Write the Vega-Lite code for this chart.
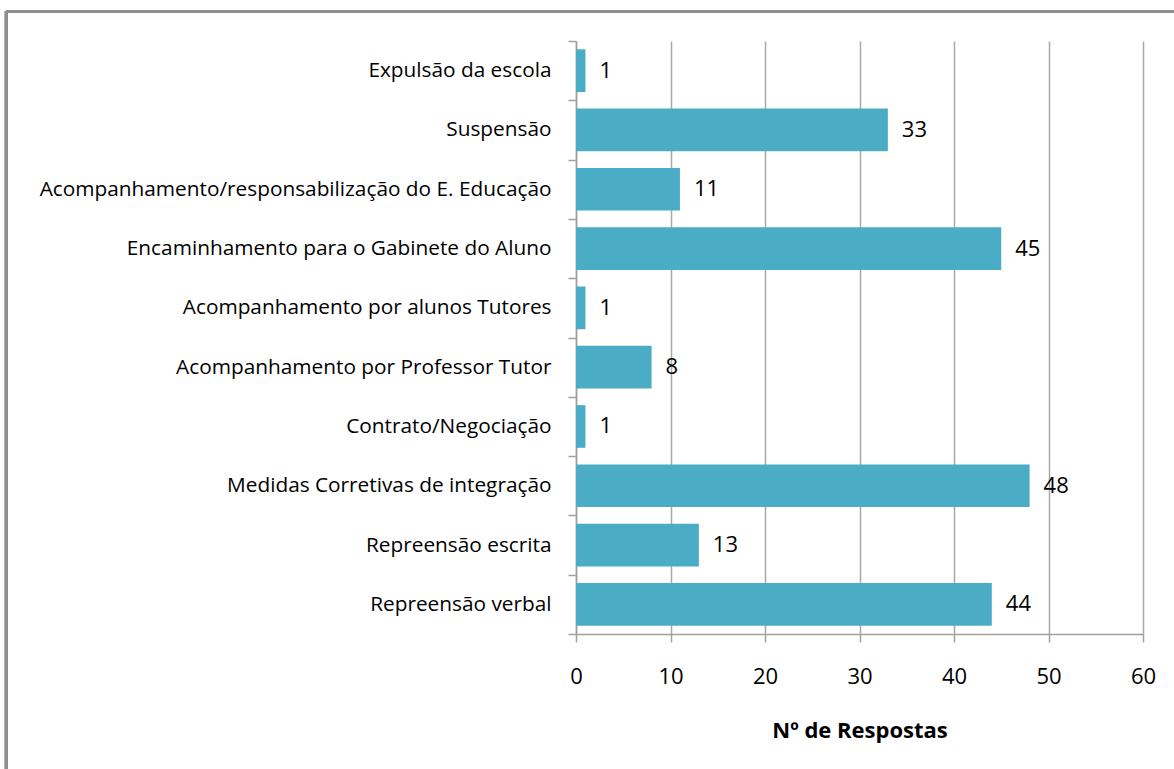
{
  "$schema": "https://vega.github.io/schema/vega-lite/v6.json",
  "autosize": {"type": "none"},
  "padding": {"left": 576, "top": 41, "right": 31, "bottom": 135},
  "width": 567,
  "height": 593,
  "background": "white",
  "config": {
    "view": {"stroke": null},
    "font": "Open Sans",
    "axis": {"labelFont": "Open Sans", "titleFont": "Open Sans"}
  },
  "data": {
    "values": [
      {"medida": "Expulsão da escola", "n": 1},
      {"medida": "Suspensão", "n": 33},
      {"medida": "Acompanhamento/responsabilização do E. Educação", "n": 11},
      {"medida": "Encaminhamento para o Gabinete do Aluno", "n": 45},
      {"medida": "Acompanhamento por alunos Tutores", "n": 1},
      {"medida": "Acompanhamento por Professor Tutor", "n": 8},
      {"medida": "Contrato/Negociação", "n": 1},
      {"medida": "Medidas Corretivas de integração", "n": 48},
      {"medida": "Repreensão escrita", "n": 13},
      {"medida": "Repreensão verbal", "n": 44}
    ]
  },
  "resolve": {"scale": {"y": "independent"}, "axis": {"y": "independent"}},
  "layer": [
    {
      "layer": [
        {
          "mark": {"type": "bar", "color": "#4bacc6", "height": {"band": 0.72}},
          "encoding": {
            "y": {
              "field": "medida",
              "type": "nominal",
              "sort": null,
              "scale": {"paddingInner": 0, "paddingOuter": 0},
              "axis": {
                "title": null,
                "domainColor": "#a0a0a0",
                "domainWidth": 1.5,
                "tickColor": "#a0a0a0",
                "tickWidth": 1.5,
                "tickSize": 8,
                "tickBand": "extent",
                "labelFontSize": 20.8,
                "labelColor": "#000000",
                "labelPadding": 17,
                "labelLimit": 600
              }
            },
            "x": {
              "field": "n",
              "type": "quantitative",
              "scale": {"domain": [0, 60], "nice": false},
              "axis": {
                "title": "Nº de Respostas",
                "values": [0, 10, 20, 30, 40, 50, 60],
                "grid": true,
                "gridColor": "#a8a8a8",
                "gridWidth": 1.5,
                "domainColor": "#a0a0a0",
                "domainWidth": 1.5,
                "tickColor": "#a0a0a0",
                "tickWidth": 1.5,
                "tickSize": 8,
                "labelFlush": false,
                "labelFontSize": 22,
                "labelColor": "#000000",
                "labelPadding": 24,
                "titleFontSize": 22,
                "titleFontWeight": "bold",
                "titleColor": "#000000",
                "titlePadding": 33
              }
            }
          }
        },
        {
          "mark": {"type": "text", "align": "left", "baseline": "middle", "dx": 14, "fontSize": 22, "color": "#000000"},
          "encoding": {
            "y": {"field": "medida", "type": "nominal", "sort": null},
            "x": {"field": "n", "type": "quantitative"},
            "text": {"field": "n", "type": "quantitative"}
          }
        }
      ]
    },
    {
      "layer": [
        {
          "mark": {"type": "rule", "color": "#8f8f8f", "strokeWidth": 2.5},
          "encoding": {
            "x": {"datum": -60.3, "type": "quantitative", "scale": {"domain": [0, 60], "nice": false}},
            "y": {"datum": 1.05, "type": "quantitative", "scale": {"domain": [0, 1], "nice": false, "zero": false}, "axis": null},
            "y2": {"datum": -0.4}
          }
        },
        {
          "mark": {"type": "rule", "color": "#8f8f8f", "strokeWidth": 2.5},
          "encoding": {
            "x": {"datum": -60.3, "type": "quantitative"},
            "x2": {"datum": 66},
            "y": {"datum": 1.05, "type": "quantitative"}
          }
        }
      ]
    }
  ]
}
